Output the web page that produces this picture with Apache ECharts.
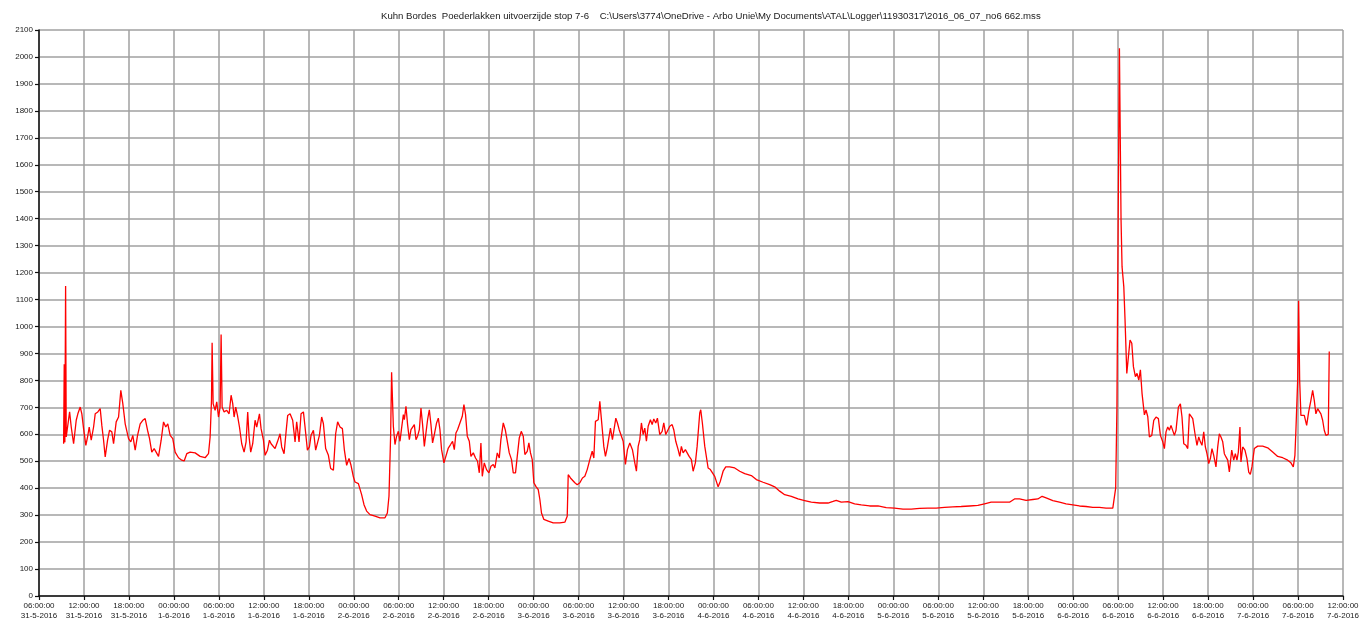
<!DOCTYPE html>
<html>
<head>
<meta charset="utf-8">
<script src="https://cdn.jsdelivr.net/npm/echarts@6/dist/echarts.min.js"></script>
<style>
  html, body { margin: 0; padding: 0; background: #fff; }
  #chart { width: 1363px; height: 622px; }
</style>
</head>
<body>
<div id="chart"></div>
<script>
// logger start of axis: 31-5-2016 06:00:00, times are minutes after that
const dayLabels = ['31-5-2016', '1-6-2016', '2-6-2016', '3-6-2016', '4-6-2016', '5-6-2016', '6-6-2016', '7-6-2016'];
const yTicks = [0, 2100, 100];

const minutes = [
  197, 202, 207, 213, 218, 231, 245, 258, 277, 298, 311, 330, 343, 357, 375, 389, 402, 418, 437, 450,
  471, 490, 503, 517, 530, 549, 565, 583, 597, 618, 637, 655, 671, 690, 717, 735, 751, 770, 789, 810,
  831, 850, 869, 885, 903, 922, 938, 957, 978, 997, 1015, 1031, 1050, 1071, 1090, 1117, 1143, 1162, 1183, 1210,
  1250, 1290, 1330, 1357, 1370, 1381, 1386, 1394, 1410, 1423, 1437, 1450, 1458, 1466, 1482, 1503, 1522, 1538, 1551, 1562,
  1575, 1589, 1605, 1623, 1642, 1658, 1671, 1682, 1695, 1711, 1730, 1743, 1765, 1778, 1797, 1810, 1829, 1845, 1858, 1871,
  1890, 1909, 1930, 1943, 1962, 1978, 1991, 2010, 2031, 2050, 2063, 2082, 2098, 2117, 2130, 2149, 2165, 2178, 2197, 2215,
  2231, 2245, 2263, 2277, 2295, 2317, 2335, 2357, 2375, 2391, 2410, 2429, 2445, 2463, 2482, 2498, 2517, 2530, 2557, 2570,
  2583, 2602, 2623, 2650, 2690, 2730, 2770, 2789, 2802, 2815, 2823, 2837, 2850, 2863, 2877, 2890, 2903, 2917, 2925, 2938,
  2951, 2965, 2978, 2991, 3005, 3018, 3031, 3045, 3058, 3071, 3085, 3098, 3111, 3125, 3138, 3151, 3165, 3183, 3197, 3210,
  3223, 3242, 3258, 3277, 3295, 3311, 3325, 3338, 3351, 3370, 3389, 3402, 3415, 3429, 3445, 3458, 3477, 3495, 3511, 3525,
  3538, 3549, 3565, 3583, 3602, 3618, 3637, 3650, 3669, 3685, 3698, 3717, 3733, 3749, 3765, 3783, 3797, 3815, 3829, 3845,
  3861, 3877, 3890, 3909, 3922, 3935, 3949, 3962, 3978, 3997, 4010, 4023, 4042, 4077, 4117, 4170, 4210, 4229, 4237, 4255,
  4271, 4290, 4309, 4330, 4351, 4370, 4389, 4410, 4429, 4442, 4455, 4477, 4490, 4503, 4522, 4535, 4549, 4562, 4575, 4591,
  4605, 4618, 4631, 4645, 4658, 4677, 4695, 4711, 4730, 4751, 4770, 4783, 4797, 4810, 4823, 4837, 4850, 4863, 4877, 4895,
  4909, 4922, 4938, 4951, 4970, 4989, 5002, 5018, 5031, 5050, 5069, 5082, 5098, 5117, 5130, 5143, 5157, 5175, 5191, 5205,
  5223, 5237, 5255, 5269, 5290, 5298, 5311, 5330, 5357, 5375, 5391, 5410, 5437, 5455, 5477, 5498, 5530, 5570, 5610, 5650,
  5703, 5743, 5797, 5850, 5890, 5930, 5970, 6023, 6077, 6130, 6183, 6250, 6317, 6357, 6383, 6423, 6477, 6530, 6583, 6650,
  6717, 6783, 6850, 6917, 6983, 7050, 7117, 7183, 7250, 7317, 7383, 7450, 7517, 7570, 7623, 7690, 7770, 7810, 7850, 7903,
  7957, 7997, 8031, 8063, 8117, 8170, 8223, 8277, 8330, 8383, 8437, 8490, 8543, 8597, 8610, 8620, 8630, 8640, 8650, 8663,
  8671, 8685, 8695, 8709, 8722, 8735, 8749, 8762, 8778, 8791, 8805, 8818, 8831, 8850, 8863, 8877, 8890, 8909, 8925, 8943,
  8962, 8978, 8997, 9010, 9023, 9037, 9050, 9063, 9077, 9090, 9103, 9122, 9138, 9151, 9165, 9183, 9197, 9210, 9223, 9237,
  9255, 9271, 9285, 9298, 9311, 9325, 9338, 9351, 9365, 9378, 9391, 9405, 9423, 9437, 9450, 9463, 9477, 9490, 9503, 9517,
  9530, 9549, 9565, 9578, 9591, 9602, 9615, 9623, 9637, 9655, 9671, 9685, 9698, 9711, 9730, 9757, 9797, 9837, 9877, 9917,
  9957, 9997, 10023, 10042, 10055, 10063, 10077, 10085, 10093, 10103, 10117, 10130, 10149, 10165, 10183, 10197, 10210, 10223, 10237, 10250,
  10263, 10277, 10290, 10303, 10317, 10322, 10330
];

const values = [
  565, 860, 570, 1150, 590, 596, 683, 627, 565, 652, 676, 701, 676, 621, 559, 590, 627, 578, 627, 676,
  683, 695, 633, 578, 516, 578, 615, 609, 565, 646, 664, 763, 714, 639, 584, 572, 596, 541, 596, 639,
  652, 658, 615, 584, 534, 547, 547, 518, 578, 646, 627, 639, 596, 584, 534, 513, 504, 501, 528, 534,
  531, 518, 513, 528, 590, 726, 940, 714, 689, 720, 664, 701, 970, 701, 683, 689, 676, 745, 714, 664,
  701, 670, 627, 565, 534, 572, 683, 590, 534, 565, 652, 627, 676, 621, 578, 522, 541, 578, 565, 559,
  547, 572, 602, 553, 528, 609, 670, 676, 652, 572, 646, 572, 676, 683, 627, 541, 553, 596, 615, 541,
  534, 596, 664, 639, 547, 522, 473, 467, 602, 646, 627, 621, 541, 485, 510, 485, 442, 423, 417, 420,
  376, 339, 315, 302, 296, 290, 290, 308, 370, 593, 830, 630, 562, 593, 611, 574, 623, 673, 654, 704,
  636, 580, 617, 611, 636, 580, 593, 617, 697, 636, 555, 605, 654, 691, 636, 568, 599, 642, 660, 617,
  543, 494, 488, 549, 562, 574, 543, 605, 617, 642, 667, 710, 673, 593, 574, 518, 531, 512, 500, 457,
  568, 444, 494, 469, 457, 481, 488, 475, 531, 512, 580, 642, 617, 611, 531, 506, 457, 457, 518, 586,
  611, 593, 525, 537, 568, 531, 506, 420, 407, 395, 358, 308, 284, 278, 271, 271, 274, 296, 450, 438,
  444, 420, 413, 420, 438, 444, 469, 506, 537, 512, 648, 654, 722, 654, 555, 518, 549, 543, 623, 580,
  580, 660, 642, 617, 623, 574, 488, 543, 568, 543, 494, 463, 555, 580, 642, 599, 623, 574, 630, 654,
  636, 657, 642, 660, 599, 611, 642, 599, 593, 630, 636, 617, 574, 543, 518, 555, 531, 543, 549, 518,
  506, 463, 494, 555, 679, 691, 642, 556, 475, 469, 463, 444, 405, 426, 463, 479, 479, 475, 463, 454,
  447, 432, 422, 413, 405, 389, 376, 370, 360, 354, 348, 345, 345, 351, 355, 348, 350, 342, 338, 334,
  334, 328, 326, 322, 322, 325, 326, 326, 329, 331, 332, 334, 336, 342, 348, 348, 348, 360, 360, 355,
  358, 360, 370, 364, 354, 348, 342, 338, 334, 332, 329, 329, 326, 326, 330, 400, 700, 1400, 2032, 1395,
  1222, 1148, 1024, 826, 888, 950, 938, 851, 814, 826, 801, 839, 752, 672, 690, 665, 590, 596, 652, 664,
  658, 596, 572, 547, 609, 627, 615, 633, 639, 596, 615, 701, 713, 664, 565, 559, 547, 676, 683, 658,
  602, 559, 590, 572, 559, 609, 553, 528, 491, 510, 547, 522, 479, 553, 602, 590, 572, 528, 516, 504,
  460, 541, 504, 528, 504, 534, 627, 497, 553, 541, 510, 460, 451, 479, 547, 556, 556, 550, 534, 518,
  513, 504, 494, 479, 522, 615, 800, 1095, 800, 670, 664, 670, 633, 683, 726, 763, 726, 676, 695, 701,
  676, 652, 615, 596, 590, 600, 907
];

const title = 'Kuhn Bordes  Poederlakken uitvoerzijde stop 7-6    C:\\Users\\3774\\OneDrive - Arbo Unie\\My Documents\\ATAL\\Logger\\11930317\\2016_06_07_no6 662.mss';

const pad = n => (n < 10 ? '0' : '') + n;

const tickLabel = v => {
  const total = v / 60 + 6;
  const d = Math.floor(total / 24);
  const h = Math.round(total - d * 24);
  return pad(h) + ':00:00\n' + dayLabels[d];
};

const chart = echarts.init(document.getElementById('chart'));

const option = {
  animation: false,
  backgroundColor: '#ffffff',
  title: {
    text: title,
    left: 376,
    top: 6,
    textStyle: {
      fontFamily: 'Liberation Sans',
      fontSize: 9.6,
      fontWeight: 'normal',
      color: '#1a1a1a'
    }
  },
  grid: {
    left: 39,
    right: 20,
    top: 30,
    bottom: 26
  },
  xAxis: {
    type: 'value',
    min: 0,
    max: 174 * 60,
    interval: 360,
    axisLine: { lineStyle: { color: '#111', width: 1.5 } },
    axisTick: { show: true, length: 4, lineStyle: { color: '#111', width: 1.2 } },
    axisLabel: {
      formatter: tickLabel,
      fontFamily: 'Liberation Sans',
      fontSize: 8,
      lineHeight: 10,
      color: '#1a1a1a',
      margin: 5,
      showMinLabel: true,
      showMaxLabel: true
    },
    splitLine: { show: true, lineStyle: { color: '#a0a0a0', width: 1.5 } }
  },
  yAxis: {
    type: 'value',
    min: yTicks[0],
    max: yTicks[1],
    interval: yTicks[2],
    axisLine: { show: true, lineStyle: { color: '#111', width: 1.5 } },
    axisTick: { show: true, length: 4, lineStyle: { color: '#111', width: 1.2 } },
    axisLabel: {
      formatter: v => String(v),
      fontFamily: 'Liberation Sans',
      fontSize: 8,
      color: '#1a1a1a',
      margin: 6
    },
    splitLine: { show: true, lineStyle: { color: '#a0a0a0', width: 1.5 } }
  },
  series: [
    {
      type: 'line',
      data: minutes.map((m, i) => [m, values[i]]),
      showSymbol: false,
      lineStyle: { color: '#ff0000', width: 1.3 },
      itemStyle: { color: '#ff0000' }
    }
  ]
};

chart.setOption(option);
</script>
</body>
</html>
